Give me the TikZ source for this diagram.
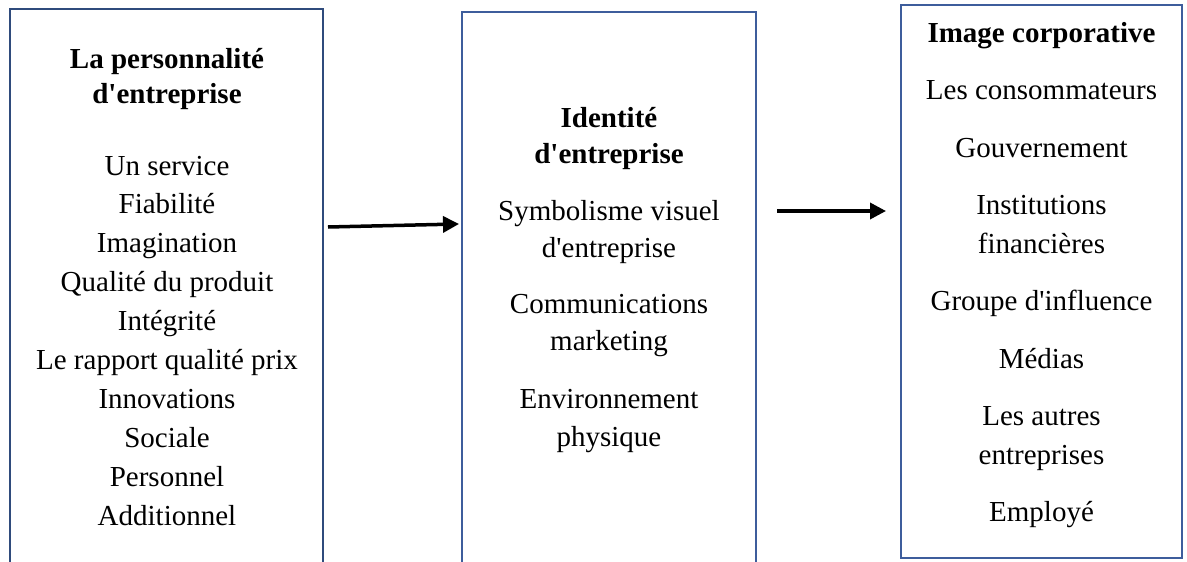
\documentclass[tikz,border=0pt]{standalone}
\usepackage{fontspec}
\setmainfont{Liberation Serif}[Ligatures=TeXOff]
\usetikzlibrary{arrows.meta}
\definecolor{navyA}{HTML}{2F4B7C}
\definecolor{navyB}{HTML}{3D5D9C}
\begin{document}
\begin{tikzpicture}[x=1pt,y=-1pt,
  box/.style={draw, line width=2pt, rectangle, inner sep=0pt, outer sep=0pt, anchor=north west},
  txt/.style={anchor=base, inner sep=0pt, font=\fontsize{29}{38}\selectfont},
  ttl/.style={anchor=base, inner sep=0pt, font=\fontsize{29}{38}\selectfont\bfseries},
  arr/.style={line width=3.5pt, -{Triangle[length=16pt,width=16pt]}}]
\useasboundingbox (0,0) rectangle (1187,562);
% boxes
\node[box, draw=navyA, minimum width=313pt, minimum height=600pt] (b1) at (10,9) {};
\node[box, draw=navyB, minimum width=294pt, minimum height=600pt] (b2) at (462,12) {};
\node[box, draw=navyB, minimum width=281pt, minimum height=553pt] (b3) at (901,5) {};
% left box text
\node[ttl] (l1) at (167,68) {La personnalité};
\node[ttl] (l2) at (167,103.5) {d'entreprise};
\foreach \t [count=\i from 0] in {Un service,Fiabilité,Imagination,Qualité du produit,Intégrité,Le rapport qualité prix,Innovations,Sociale,Personnel,Additionnel}
  \node[txt] (li\i) at (167,175+38.9*\i) {\t};
% middle box text
\node[ttl] (m1) at (609,127) {Identité};
\node[ttl] (m2) at (609,163.5) {d'entreprise};
\node[txt] (m3) at (609,220) {Symbolisme visuel};
\node[txt] (m4) at (609,257) {d'entreprise};
\node[txt] (m5) at (609,313) {Communications};
\node[txt] (m6) at (609,350) {marketing};
\node[txt] (m7) at (609,408) {Environnement};
\node[txt] (m8) at (609,446) {physique};
% right box text
\node[ttl] (r0) at (1041.5,42) {Image corporative};
\node[txt] (r1) at (1041.5,99.5) {Les consommateurs};
\node[txt] (r2) at (1041.5,157) {Gouvernement};
\node[txt] (r3) at (1041.5,214.5) {Institutions};
\node[txt] (r4) at (1041.5,253) {financières};
\node[txt] (r5) at (1041.5,310.5) {Groupe d'influence};
\node[txt] (r6) at (1041.5,368) {Médias};
\node[txt] (r7) at (1041.5,425.5) {Les autres};
\node[txt] (r8) at (1041.5,464) {entreprises};
\node[txt] (r9) at (1041.5,521.5) {Employé};
% arrows
\coordinate (a1s) at (328,227);
\coordinate (a1e) at (459,224);
\coordinate (a2s) at (777,211);
\coordinate (a2e) at (886,211);
\draw[arr] (a1s) -- (a1e);
\draw[arr] (a2s) -- (a2e);
\end{tikzpicture}
\end{document}
